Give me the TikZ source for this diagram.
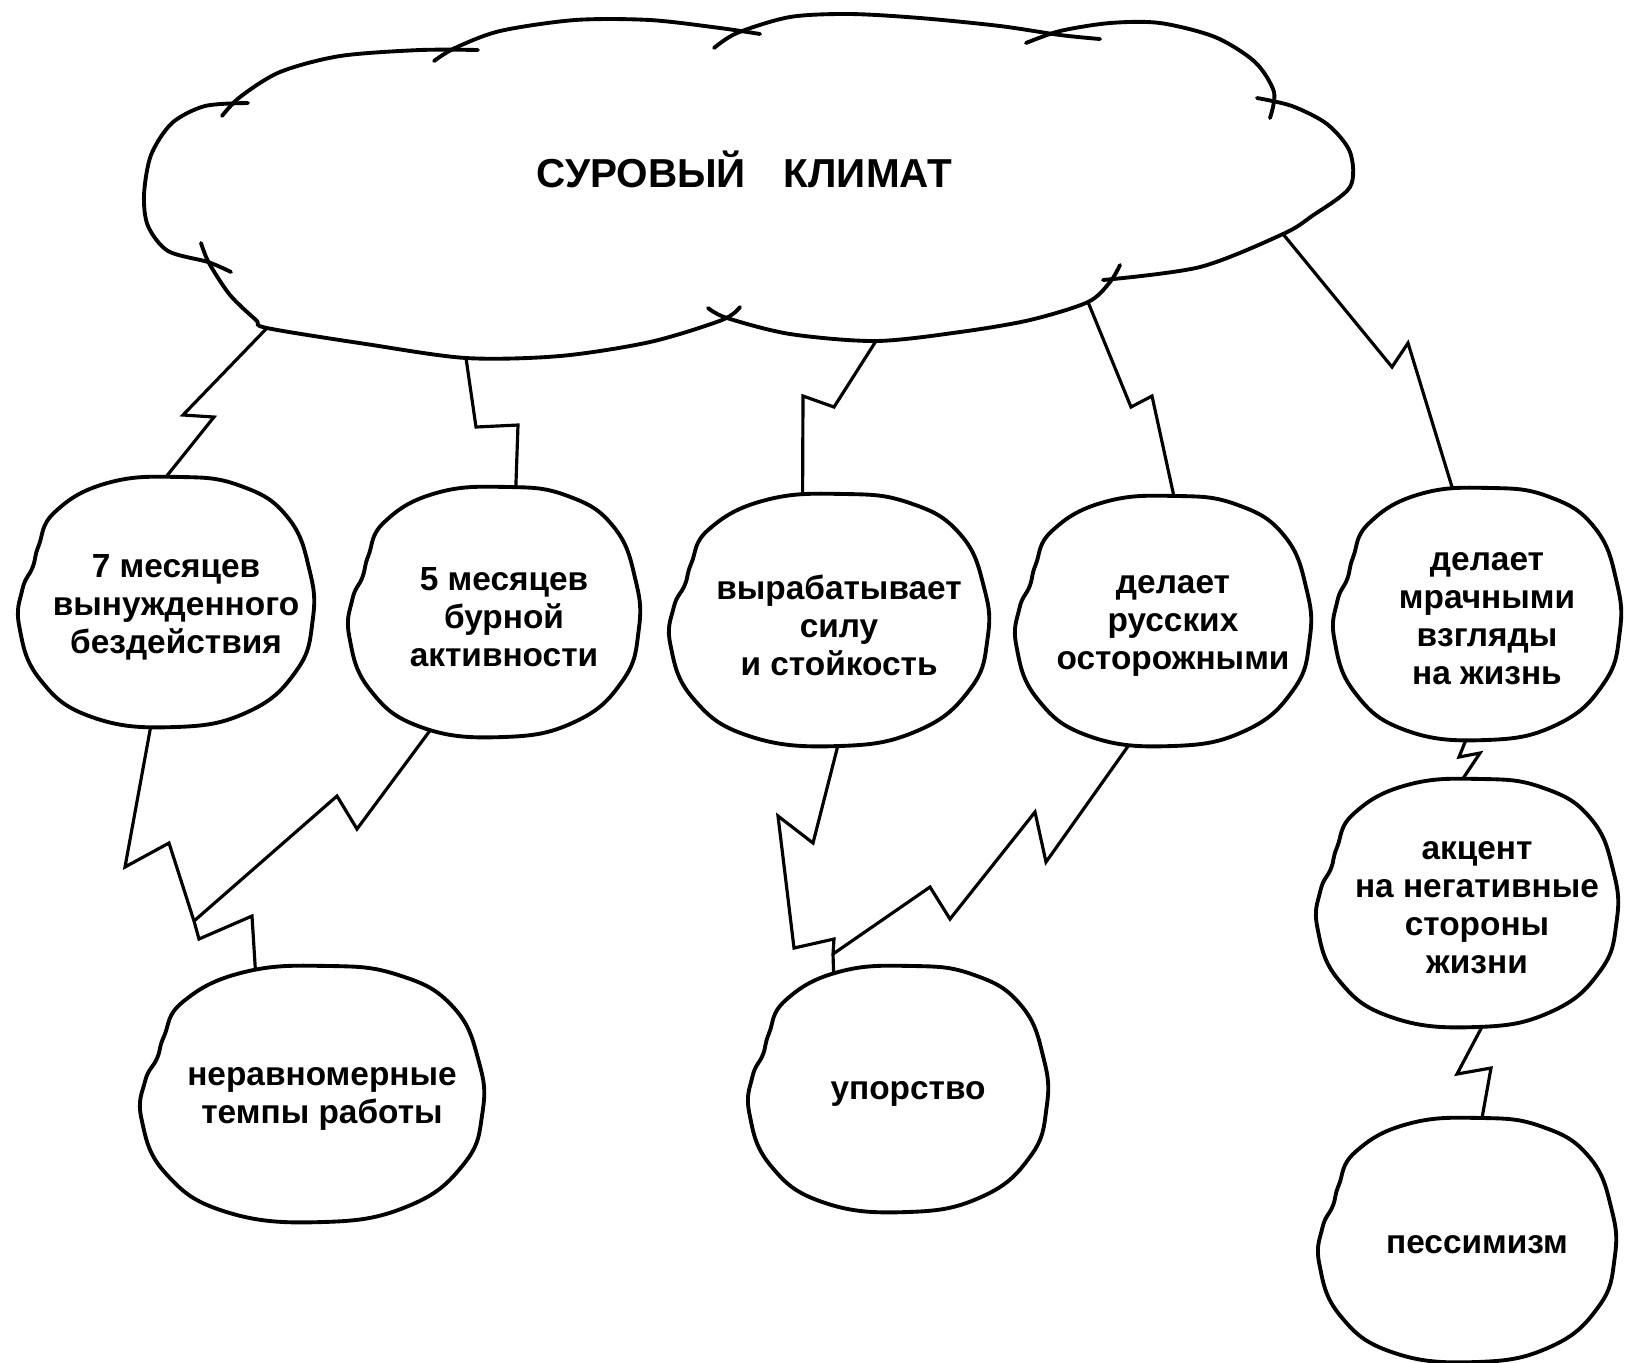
\documentclass[tikz,border=0pt]{standalone}
\usepackage{fontspec}
\setmainfont{Liberation Sans}
\usetikzlibrary{shapes.geometric,backgrounds}

\tikzset{
  blob/.style={ellipse, inner sep=0pt, outer sep=0pt},
  blobtext/.style={font=\fontsize{9.5}{10.8}\selectfont\bfseries, align=center, xshift=.1cm, yshift=-.05cm},
  blobline/.style={line width=1.1pt, fill=white},
  bolt/.style={line width=.9pt, line join=miter, shorten >=-6pt},
  boltboth/.style={bolt, shorten <=-6pt},
  cloudline/.style={line width=1.1pt, line cap=round},
}

\begin{document}
\begin{tikzpicture}[x=0.01cm, y=-0.01cm]
  \useasboundingbox (0,0) rectangle (1633,1362);

  \node[font=\fontsize{11.5}{13}\selectfont\bfseries, anchor=base] (klimat) at (744,187) {СУРОВЫЙ\hspace{0.38cm}КЛИМАТ};

  \node[blob, minimum width=2.96cm, minimum height=2.5cm, label={[blobtext]center:{7 месяцев\\вынужденного\\бездействия}}] (m7) at (166,602) {};
  \node[blob, minimum width=2.92cm, minimum height=2.5cm, label={[blobtext]center:{5 месяцев\\бурной\\активности}}] (m5) at (494,612) {};
  \node[blob, minimum width=3.2cm, minimum height=2.52cm, label={[blobtext]center:{вырабатывает\\силу\\и стойкость}}] (sila) at (829,620) {};
  \node[blob, minimum width=2.96cm, minimum height=2.5cm, label={[blobtext]center:{делает\\русских\\осторожными}}] (ostor) at (1163,621) {};
  \node[blob, minimum width=2.88cm, minimum height=2.52cm, label={[blobtext]center:{делает\\мрачными\\взгляды\\на жизнь}}] (mrak) at (1477,614) {};
  \node[blob, minimum width=3.44cm, minimum height=2.56cm, label={[blobtext]center:{неравномерные\\темпы работы}}] (temp) at (312,1094) {};
  \node[blob, minimum width=3.0cm, minimum height=2.46cm, label={[blobtext]center:{упорство}}] (upor) at (898,1089) {};
  \node[blob, minimum width=3.02cm, minimum height=2.48cm, label={[blobtext]center:{акцент\\на негативные\\стороны\\жизни}}] (akc) at (1467,903) {};
  \node[blob, minimum width=2.98cm, minimum height=2.44cm, label={[blobtext]center:{пессимизм}}] (pess) at (1467,1240) {};

  \coordinate (clA) at (267,328);
  \coordinate (clB) at (466,358);
  \coordinate (clC) at (876,341);
  \coordinate (clD) at (1088,302);
  \coordinate (clE) at (1283,234);
  \coordinate (jF) at (194,921);
  \coordinate (jG) at (833,954);

  \draw[cloudline] plot[smooth] coordinates {(231,272) (208,262) (168,251) (148,226) (144,195) (151,155) (172,123) (205,106) (248,103)};
  \draw[cloudline] plot[smooth] coordinates {(222,116) (240,97) (280,72) (340,56) (420,50) (478,50)};
  \draw[cloudline] plot[smooth] coordinates {(434,61) (455,48) (500,31) (575,20) (650,20) (720,28) (760,34)};
  \draw[cloudline] plot[smooth] coordinates {(714,48) (737,33) (790,17) (850,14) (920,18) (1000,26) (1060,35) (1100,39)};
  \draw[cloudline] plot[smooth] coordinates {(1026,43) (1060,31) (1110,23) (1160,23) (1215,37) (1255,62) (1274,92) (1270,118)};
  \draw[cloudline] plot[smooth] coordinates {(1257,98) (1292,106) (1327,124) (1350,152) (1350,187) (1312,216) (clE) (1200,267) (1103,280)};
  \draw[cloudline] plot[smooth] coordinates {(1120,265) (1110,282) (clD) (1030,320) (960,332) (clC) (790,334) (727,318) (708,308)};
  \draw[cloudline] plot[smooth] coordinates {(740,307) (722,320) (650,342) (560,356) (clB) (366,344) (clA) (256,320) (230,295) (209,263) (201,243)};

  \begin{scope}[on background layer]
    \draw[bolt] (clA) -- (183,415) -- (214,417) -- (m7.90);
    \draw[bolt] (clB) -- (476,427) -- (518,425) -- (m5.80);
    \draw[bolt] (clC) -- (834,407) -- (803,396) -- (sila.102);
    \draw[bolt] (clD) -- (1131,407) -- (1152,396) -- (ostor.85);
    \draw[bolt] (clE) -- (1392,367) -- (1408,343) -- (mrak.101);

    \draw[boltboth] (m7.-97) -- (125,867) -- (169,843) -- (jF) -- (199,939) -- (252,916) -- (temp.115);
    \draw[boltboth, shorten >=0pt] (m5.-118) -- (357,829) -- (337,796) -- (jF);
    \draw[boltboth] (sila.-86) -- (813,843) -- (778,816) -- (794,948) -- (834,939) -- (jG) -- (upor.120);
    \draw[boltboth, shorten >=0pt] (ostor.-105) -- (1046,862) -- (1035,812) -- (950,919) -- (930,887) -- (jG);
    \draw[boltboth] (mrak.-95) -- (1459,757) -- (1480,753) -- (akc.92);
    \draw[boltboth] (akc.-83) -- (1457,1074) -- (1491,1068) -- (pess.83);

    \foreach \n/\rx/\ry in {m7/1.48/1.25, m5/1.46/1.25, sila/1.60/1.26, ostor/1.48/1.25, mrak/1.44/1.26, temp/1.72/1.28, upor/1.50/1.23, akc/1.51/1.24, pess/1.49/1.22} {
      \draw[blobline, shift={(\n.center)}, x=\rx cm, y=\ry cm] plot[smooth cycle, tension=.75] coordinates {(0.08,1) (0.5,0.93) (0.82,0.68) (0.97,0.25) (0.99,-0.15) (0.88,-0.55) (0.55,-0.88) (0.05,-1) (-0.5,-0.92) (-0.85,-0.62) (-0.99,-0.2) (-0.97,0.1) (-0.9,0.28) (-0.86,0.45) (-0.75,0.72) (-0.4,0.95)};
    }
  \end{scope}
\end{tikzpicture}
\end{document}
